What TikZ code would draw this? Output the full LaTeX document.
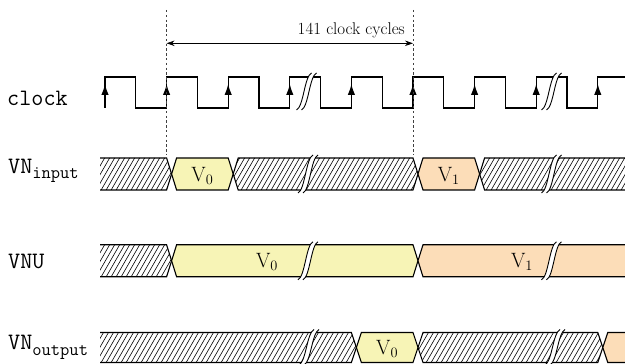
\documentclass[tikz,border=0pt]{standalone}
\usetikzlibrary{arrows.meta}

\definecolor{vzero}{RGB}{247,244,182}
\definecolor{vone}{RGB}{252,221,184}

\tikzset{
  wave/.style={line width=1.2pt, line join=miter},
  busline/.style={line width=1.1pt, line join=miter},
  hatchline/.style={line width=0.6pt},
  guide/.style={line width=0.6pt, dash pattern=on 2.4pt off 2.4pt, black!75},
  span/.style={line width=0.75pt, {Stealth[length=8pt,width=5.5pt]}-{Stealth[length=8pt,width=5.5pt]}},
  edgearrow/.style={line width=1.2pt, -{Latex[length=11pt,width=7.5pt]}},
  breakline/.style={line width=0.9pt},
  sig/.style={font=\fontsize{23.5}{26}\ttfamily, anchor=base west, inner sep=0pt},
  val/.style={font=\fontsize{21}{24}\selectfont, inner sep=0pt},
  note/.style={font=\fontsize{17}{20}\selectfont, inner sep=0pt},
}

% hatching inside the current clip region, rows from y=#1 upwards
\newcommand\hatchrows[1]{%
  \foreach \hx in {70,75,...,640} \draw[hatchline] (\hx,#1-2) -- ++(60:42);}

% segment closed on both ends: left centre #1, right centre #2, mid #3, half height #4
\newcommand\busmid[5]{%
  \path[fill=#5] (#1,#3) -- (#1+5,#3+#4) -- (#2-5,#3+#4) -- (#2,#3) -- (#2-5,#3-#4) -- (#1+5,#3-#4) -- cycle;
  \draw[busline] (#1,#3) -- (#1+5,#3+#4) -- (#2-5,#3+#4) -- (#2,#3) -- (#2-5,#3-#4) -- (#1+5,#3-#4) -- cycle;}
\newcommand\hatchmid[4]{%
  \begin{scope}
    \clip (#1,#3) -- (#1+5,#3+#4) -- (#2-5,#3+#4) -- (#2,#3) -- (#2-5,#3-#4) -- (#1+5,#3-#4) -- cycle;
    \hatchrows{#3-#4}
  \end{scope}
  \draw[busline] (#1,#3) -- (#1+5,#3+#4) -- (#2-5,#3+#4) -- (#2,#3) -- (#2-5,#3-#4) -- (#1+5,#3-#4) -- cycle;}
% hatched segment open on the left (starts at x=100)
\newcommand\hatchfirst[3]{%
  \begin{scope}
    \clip (100,#2+#3) -- (#1-5,#2+#3) -- (#1,#2) -- (#1-5,#2-#3) -- (100,#2-#3) -- cycle;
    \hatchrows{#2-#3}
  \end{scope}
  \draw[busline] (100,#2+#3) -- (#1-5,#2+#3) -- (#1,#2) -- (#1-5,#2-#3) -- (100,#2-#3);}
% segments open on the right (run to x=625)
\newcommand\hatchlast[3]{%
  \begin{scope}
    \clip (625,#2+#3) -- (#1+5,#2+#3) -- (#1,#2) -- (#1+5,#2-#3) -- (625,#2-#3) -- cycle;
    \hatchrows{#2-#3}
  \end{scope}
  \draw[busline] (625,#2+#3) -- (#1+5,#2+#3) -- (#1,#2) -- (#1+5,#2-#3) -- (625,#2-#3);}
\newcommand\buslast[4]{%
  \path[fill=#4] (625,#2+#3) -- (#1+5,#2+#3) -- (#1,#2) -- (#1+5,#2-#3) -- (625,#2-#3) -- cycle;
  \draw[busline] (625,#2+#3) -- (#1+5,#2+#3) -- (#1,#2) -- (#1+5,#2-#3) -- (625,#2-#3);}

% time-axis break mark at x=#1 between y=#2 (low) and y=#3 (high)
\newcommand\timebreak[3]{%
  \fill[white] (#1-10,#2) .. controls (#1-3,#2+3) and (#1-2,#3-3) .. (#1+5,#3)
     -- (#1+10,#3) .. controls (#1+3,#3-3) and (#1+2,#2+3) .. (#1-5,#2) -- cycle;
  \draw[breakline] (#1-10,#2) .. controls (#1-3,#2+3) and (#1-2,#3-3) .. (#1+5,#3);
  \draw[breakline] (#1-5,#2) .. controls (#1+2,#2+3) and (#1+3,#3-3) .. (#1+10,#3);}

\begin{document}
\begin{tikzpicture}[x=1pt,y=1pt]
  \useasboundingbox (0,0) rectangle (625,364);

  % ---------- signal names ----------
  \node[sig] (lclk) at (7,258.3) {clock};
  \node[sig] (lin)  at (8,190.7) {VN\raisebox{-5.5pt}{\fontsize{18}{20}\selectfont input}};
  \node[sig] (lvnu) at (8,95.7)  {VNU};
  \node[sig] (lout) at (8,14)    {VN\raisebox{-5.5pt}{\fontsize{18}{20}\selectfont output}};

  % ---------- clock ----------
  \draw[wave] (105,256) foreach \k in {0,...,7} { -- ++(0,31) -- ++(30.8,0) -- ++(0,-31) -- ++(30.8,0) }
     -- ++(0,31) -- (625,287);
  \foreach \k in {0,...,8} {
    \coordinate (e\k) at (105+61.6*\k,256);
    \draw[edgearrow] (e\k) -- ++(0,24);
  }
  \timebreak{306.5}{254}{291}
  \timebreak{551.5}{254}{291}

  % ---------- VN_input ----------
  \hatchfirst{171.6}{190}{16}
  \busmid{171.6}{233.2}{190}{16}{vzero}
  \hatchmid{233.2}{418}{190}{16}
  \busmid{418}{479.6}{190}{16}{vone}
  \hatchlast{479.6}{190}{16}
  \timebreak{308}{171}{209}
  \timebreak{551.5}{171}{209}
  \node[val] (in0) at (202.4,188.5) {$\mathrm{V}_0$};
  \node[val] (in1) at (448.8,188.5) {$\mathrm{V}_1$};

  % ---------- VNU ----------
  \hatchfirst{171.6}{103.2}{16}
  \busmid{171.6}{418}{103.2}{16}{vzero}
  \buslast{418}{103.2}{16}{vone}
  \timebreak{308}{84.2}{122.2}
  \timebreak{551.5}{84.2}{122.2}
  \node[val] (u0) at (267,101.7) {$\mathrm{V}_0$};
  \node[val] (u1) at (522,101.7) {$\mathrm{V}_1$};

  % ---------- VN_output ----------
  \hatchfirst{356.4}{16.5}{15}
  \busmid{356.4}{418}{16.5}{15}{vzero}
  \hatchmid{418}{602.8}{16.5}{15}
  \buslast{602.8}{16.5}{15}{vone}
  \timebreak{309}{-1}{34.5}
  \timebreak{555}{-1}{34.5}
  \node[val] (o0) at (387.2,15) {$\mathrm{V}_0$};

  % ---------- latency marker ----------
  \coordinate (gt1) at (166.6,354);
  \coordinate (gb1) at (166.6,209);
  \coordinate (gt2) at (413,354);
  \coordinate (gb2) at (413,209);
  \draw[guide] (gt1) -- (gb1);
  \draw[guide] (gt2) -- (gb2);
  \coordinate (sa) at (166.6,320.7);
  \coordinate (sb) at (413,320.7);
  \draw[span] (sa) -- (sb);
  \node[note, anchor=east] (cyc) at (405,333.3) {141 clock cycles};
\end{tikzpicture}
\end{document}
